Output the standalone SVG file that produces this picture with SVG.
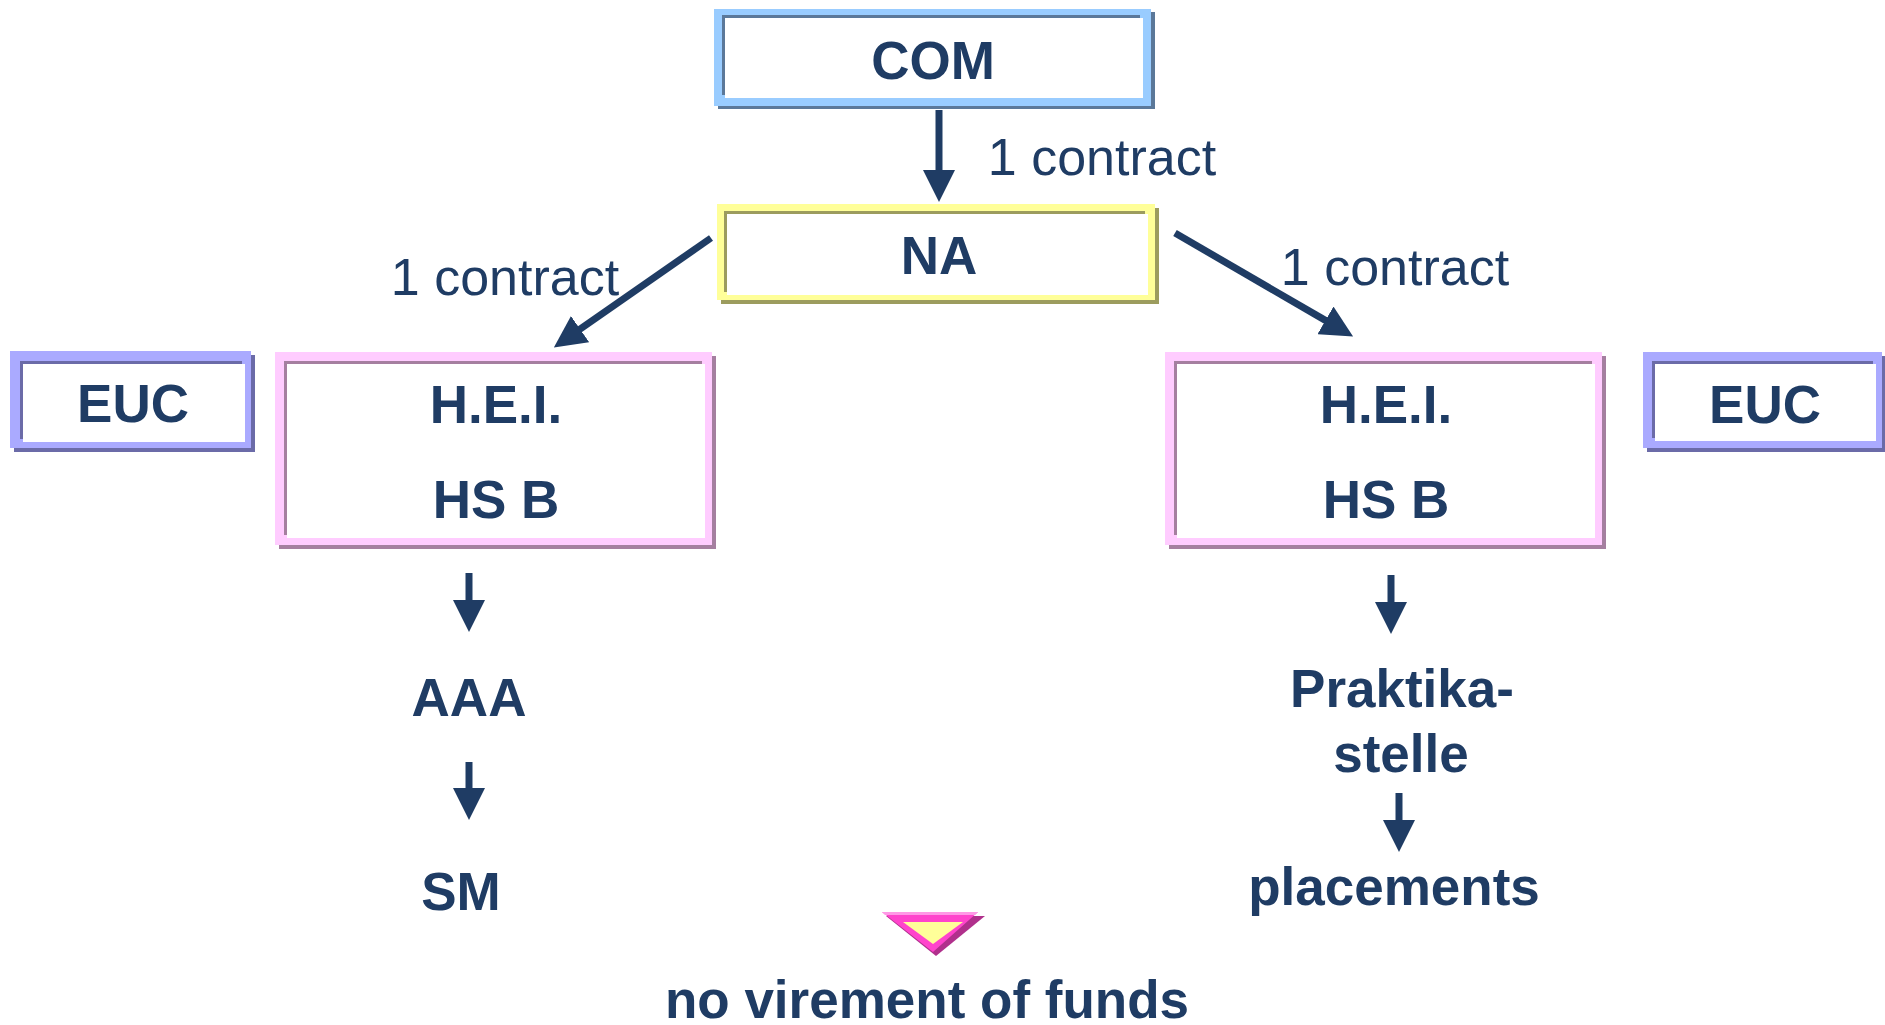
<svg xmlns="http://www.w3.org/2000/svg" width="1885" height="1025" viewBox="0 0 1885 1025">
<style>
  .t { font-family: "Liberation Sans", Arial, sans-serif; fill: #1F3C64; text-anchor: middle; }
  .b { font-weight: bold; font-size: 53px; }
  .r { font-size: 52px; }
  .w { fill: #FFFFFF; }
  .conn line { stroke: #1F3C64; stroke-width: 7; marker-end: url(#ah); }
  .blue-l { fill: #99CCFF; } .blue-d { fill: #5B7899; }
  .yel-l { fill: #FFFF99; } .yel-d { fill: #9C9C5E; }
  .pink-l { fill: #FFCCFF; } .pink-d { fill: #A57FA0; }
  .lav-l { fill: #AAAAFF; } .lav-d { fill: #6B6BA8; }
</style>
<defs>
  <marker id="ah" markerUnits="userSpaceOnUse" markerWidth="32" markerHeight="32" viewBox="0 0 32 32" refX="1" refY="16" orient="auto">
    <path d="M0,0 L32,16 L0,32 z" fill="#1F3C64"/>
  </marker>
</defs>
<rect width="1885" height="1025" fill="#FFFFFF"/>

<g id="com">
  <rect class="blue-d" x="718" y="12" width="437" height="97"/>
  <rect class="blue-l" x="714" y="9" width="437" height="97"/>
  <rect class="blue-d" x="722" y="15" width="418" height="80"/>
  <rect class="w" x="725" y="18" width="418" height="80"/>
  <text class="t b" x="933" y="79">COM</text>
</g>

<g id="na">
  <rect class="yel-d" x="721" y="208" width="438" height="96"/>
  <rect class="yel-l" x="717" y="204" width="438" height="96"/>
  <rect class="yel-d" x="724" y="211" width="421" height="81"/>
  <rect class="w" x="727" y="214" width="421" height="81"/>
  <text class="t b" x="939" y="274">NA</text>
</g>

<g id="euc-left">
  <rect class="lav-d" x="14" y="355" width="241" height="97"/>
  <rect class="lav-l" x="10" y="351" width="241" height="97"/>
  <rect class="lav-d" x="20" y="361" width="222" height="78"/>
  <rect class="w" x="23" y="364" width="222" height="78"/>
  <text class="t b" x="133" y="422">EUC</text>
</g>

<g id="hei-left">
  <rect class="pink-d" x="279" y="356" width="437" height="193"/>
  <rect class="pink-l" x="275" y="352" width="437" height="193"/>
  <rect class="pink-d" x="284" y="361" width="418" height="174"/>
  <rect class="w" x="287" y="364" width="418" height="174"/>
  <text class="t b" x="496" y="423">H.E.I.</text>
  <text class="t b" x="496" y="518">HS B</text>
</g>

<g id="hei-right">
  <rect class="pink-d" x="1169" y="356" width="437" height="193"/>
  <rect class="pink-l" x="1165" y="352" width="437" height="193"/>
  <rect class="pink-d" x="1174" y="361" width="418" height="174"/>
  <rect class="w" x="1177" y="364" width="418" height="174"/>
  <text class="t b" x="1386" y="423">H.E.I.</text>
  <text class="t b" x="1386" y="518">HS B</text>
</g>

<g id="euc-right">
  <rect class="lav-d" x="1647" y="356" width="239" height="96"/>
  <rect class="lav-l" x="1643" y="352" width="239" height="96"/>
  <rect class="lav-d" x="1652" y="361" width="221" height="77"/>
  <rect class="w" x="1655" y="364" width="221" height="77"/>
  <text class="t b" x="1765" y="423">EUC</text>
</g>

<g id="aaa"><text class="t b" x="469" y="716">AAA</text></g>
<g id="sm"><text class="t b" x="461" y="910">SM</text></g>
<g id="praktikastelle">
  <text class="t b" x="1402" y="707">Praktika-</text>
  <text class="t b" x="1401" y="772">stelle</text>
</g>
<g id="placements"><text class="t b" x="1394" y="905">placements</text></g>

<g id="no-virement">
  <polygon points="886,916 985,916 936,956" fill="#B0308C"/>
  <polygon points="882,912 978,912 933,952" fill="#FF44CC"/>
  <polygon points="882,912 978,912 975,915 885,915" fill="#FF99E6"/>
  <polygon points="903,922 963,922 933,944" fill="#FFFF99"/>
  <text class="t b" x="927" y="1018">no virement of funds</text>
</g>

<g id="connectors" class="conn">
  <line x1="939" y1="110" x2="939" y2="171"/>
  <line x1="711" y1="238" x2="579.3" y2="329.7"/>
  <line x1="1175" y1="233" x2="1326.3" y2="320.9"/>
  <line x1="469" y1="573" x2="469" y2="601"/>
  <line x1="469" y1="762" x2="469" y2="789"/>
  <line x1="1391" y1="575" x2="1391" y2="603"/>
  <line x1="1399" y1="793" x2="1399" y2="821"/>
  <text class="t r" x="1102" y="175">1 contract</text>
  <text class="t r" x="505" y="295">1 contract</text>
  <text class="t r" x="1395" y="285">1 contract</text>
</g>
</svg>
